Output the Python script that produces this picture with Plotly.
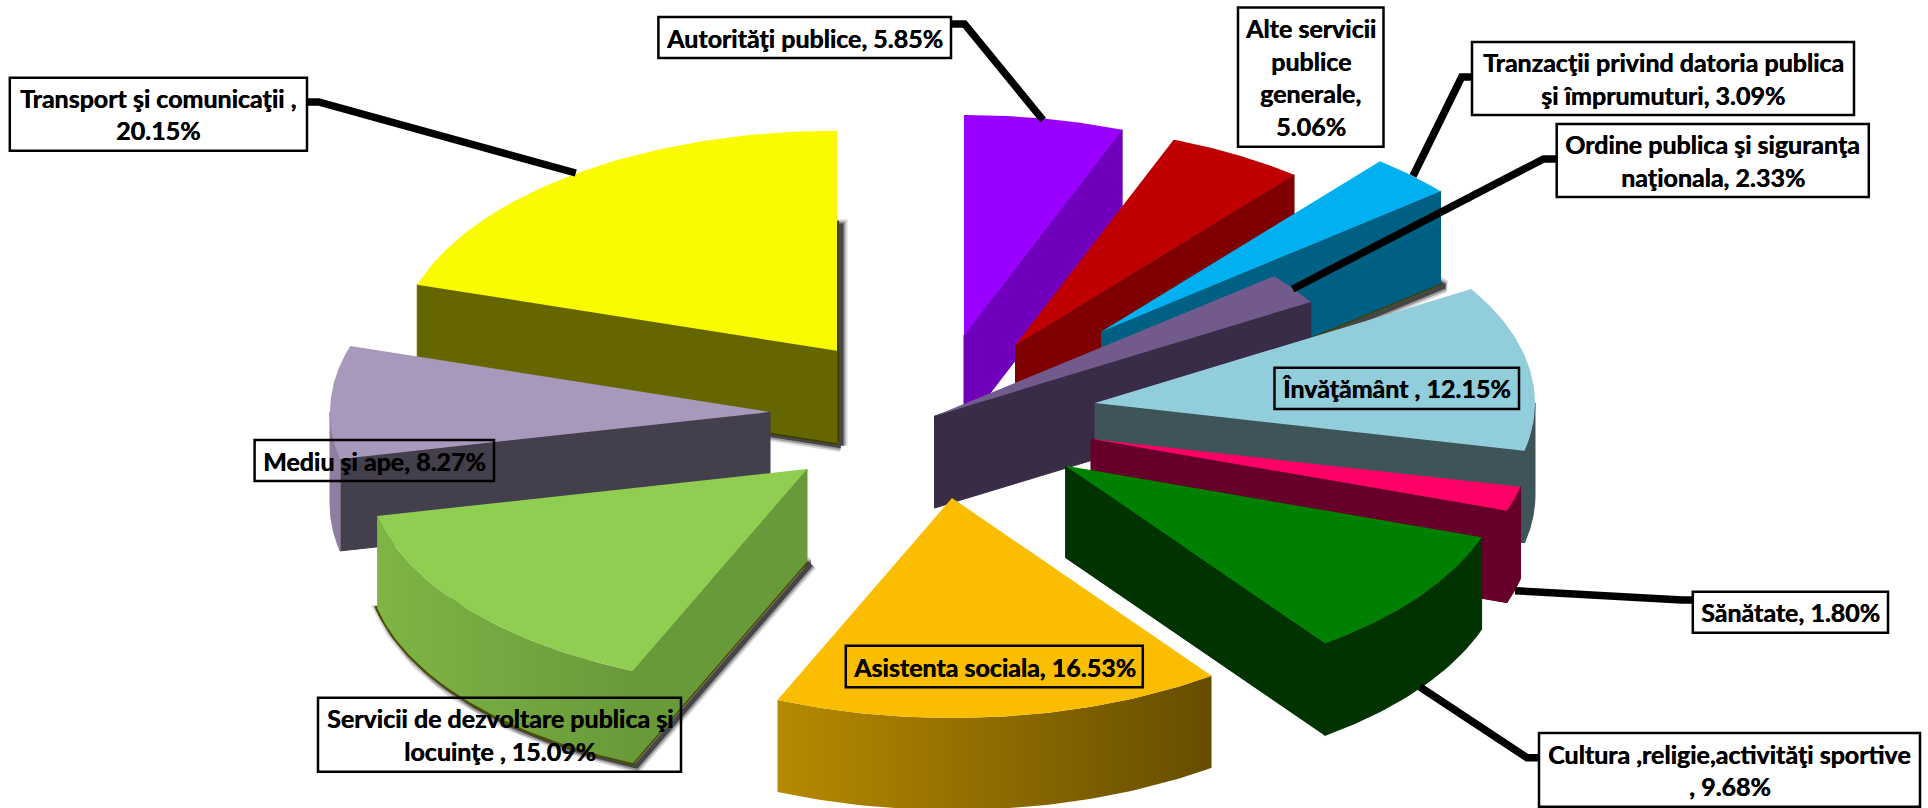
import numpy as np
import plotly.graph_objects as go

# ---------- data ----------
categories = ["Autorităţi publice", "Alte servicii publice generale", "Tranzacţii privind datoria publica şi împrumuturi",
              "Ordine publica şi siguranţa naţionala", "Învăţământ", "Sănătate", "Cultura ,religie,activităţi sportive",
              "Asistenta sociala", "Servicii de dezvoltare publica şi locuinţe", "Mediu şi ape", "Transport şi comunicaţii"]
values = [5.85, 5.06, 3.09, 2.33, 12.15, 1.80, 9.68, 16.53, 15.09, 8.27, 20.15]
label_lines = [
    ["Autorităţi publice, 5.85%"],
    ["Alte servicii", "publice", "generale,", "5.06%"],
    ["Tranzacţii privind datoria publica", "şi împrumuturi, 3.09%"],
    ["Ordine publica şi siguranţa", "naţionala, 2.33%"],
    ["Învăţământ , 12.15%"],
    ["Sănătate, 1.80%"],
    ["Cultura ,religie,activităţi sportive", ", 9.68%"],
    ["Asistenta sociala, 16.53%"],
    ["Servicii de dezvoltare publica şi", "locuinţe , 15.09%"],
    ["Mediu şi ape, 8.27%"],
    ["Transport şi comunicaţii ,", "20.15%"],
]

# ---------- geometry / style ----------
W, H = 1928, 808
RX, RY, DEPTH = 440, 220, 92
apex_x = [964, 1015.5, 1101.5, 934.5, 1095, 1091, 1065.6, 952, 807, 770, 837]
apex_y = [335, 345, 331.5, 416, 403, 439, 465.7, 498, 469, 412, 350.7]
top_colors = ["#9900FF", "#C00000", "#00B0F0", "#735A8D", "#92CDDC", "#FF0066", "#008000", "#FBBD00", "#8FCE50", "#A898BC", "#FAFA00"]
cut_colors = ["#7000BC", "#7E0000", "#006083", "#392C46", "#3F5459", "#66002A", "#003300", "#664D00", "#699A3A", "#433F4C", "#666600"]
arc_left = ["#7000BC", "#7E0000", "#006083", "#392C46", "#3F5459", "#66002A", "#003300", "#B68A00", "#7FB546", "#8E7FA0", "#666600"]
arc_right = ["#7000BC", "#7E0000", "#006083", "#392C46", "#3F5459", "#66002A", "#003300", "#664D00", "#699A3A", "#8E7FA0", "#666600"]
draw_order = [0, 1, 2, 3, 4, 5, 6, 10, 9, 8, 7]
shadowed = {2: "#3d3d00", 8: "#4d4d00", 10: "#3d3d00"}

box_x0 = [658.4, 1238, 1472, 1556.7, 1274.5, 1692.8, 1539, 845.8, 318, 254.6, 9.8]
box_x1 = [951, 1383.5, 1854, 1868.8, 1519, 1888, 1920, 1142.8, 681, 494, 307]
box_y0 = [17, 7.5, 42, 124, 367.7, 591.7, 733, 645.7, 697.7, 440, 77.7]
box_y1 = [58, 146.7, 115, 197, 409, 632.7, 806.7, 687.3, 771.7, 481, 150.7]
box_fill = ["white", "white", "white", "white", "rgba(0,0,0,0)", "white", "white", "rgba(0,0,0,0)", "rgba(0,0,0,0)", "rgba(0,0,0,0)", "white"]
LINE_STEP = 32.5
FONT = "Lato"
FONT_SIZE = 25

leaders = {
    0: ([951, 964.5, 1043], [24, 24, 120]),
    2: ([1472, 1461.7, 1413], [77, 77, 176]),
    3: ([1556.7, 1543.5, 1292.7], [159, 159, 289]),
    5: ([1692.8, 1682, 1515], [600, 600, 590.7]),
    6: ([1539, 1527, 1420], [757.7, 757.7, 687]),
    10: ([307, 318.6, 575.8], [102, 102, 173]),
}


def arc(ax, ay, t0, t1, n=60):
    t = np.linspace(t0, t1, n)
    return ax + RX * np.sin(t), ay - RY * np.cos(t)


def poly(xs, ys, color, name, gradient=None, edge=0):
    kw = {}
    if gradient:
        kw["fillgradient"] = dict(type="horizontal", colorscale=[[0, gradient[0]], [1, gradient[1]]])
        line = dict(width=0)
    else:
        kw["fillcolor"] = color
        line = dict(width=edge, color=color)
    return go.Scatter(x=list(xs), y=list(ys), mode="lines", fill="toself", line=line,
                      name=name, hoverinfo="skip", showlegend=False, **kw)


fig = go.Figure()
bounds = np.radians(np.concatenate([[0], np.cumsum(values) / np.sum(values) * 360]))

for i in draw_order:
    t0, t1 = bounds[i], bounds[i + 1]
    ax, ay = apex_x[i], apex_y[i]
    ax_, ay_ = arc(ax, ay, t0, t1)
    name = categories[i]

    # soft shadow of the underside
    if i in shadowed:
        sx = np.concatenate([[ax], ax_, [ax]])
        sy = np.concatenate([[ay], ay_, [ay]]) + DEPTH
        for width, alpha in [(13, 0.14), (9, 0.28), (5, 0.55)]:
            fig.add_trace(go.Scatter(x=sx + 4, y=sy + 3, mode="lines", line=dict(color="black", width=width),
                                     opacity=alpha, hoverinfo="skip", showlegend=False, name=name))
        fig.add_trace(go.Scatter(x=sx, y=sy, mode="lines", line=dict(color=shadowed[i], width=4),
                                 hoverinfo="skip", showlegend=False, name=name))

    # radial cut faces seen from the front
    if np.sin(t0) < -1e-6:
        ex, ey = arc(ax, ay, t0, t0, 1)
        fig.add_trace(poly([ax, ex[0], ex[0], ax, ax], [ay, ey[0], ey[0] + DEPTH, ay + DEPTH, ay], cut_colors[i], name, edge=1))
    if np.sin(t1) > 1e-6:
        ex, ey = arc(ax, ay, t1, t1, 1)
        fig.add_trace(poly([ax, ex[0], ex[0], ax, ax], [ay, ey[0], ey[0] + DEPTH, ay + DEPTH, ay], cut_colors[i], name, edge=1))

    # outer rim (front half only)
    a0, a1 = max(t0, np.pi / 2), min(t1, 1.5 * np.pi)
    if a1 > a0:
        rx_, ry_ = arc(ax, ay, a0, a1)
        xs = np.concatenate([rx_, rx_[::-1], rx_[:1]])
        ys = np.concatenate([ry_, ry_[::-1] + DEPTH, ry_[:1]])
        if arc_left[i] != arc_right[i]:
            fig.add_trace(poly(xs, ys, None, name, gradient=(arc_left[i], arc_right[i])))
        else:
            fig.add_trace(poly(xs, ys, arc_left[i], name, edge=1))

    # top face
    fig.add_trace(poly(np.concatenate([[ax], ax_, [ax]]), np.concatenate([[ay], ay_, [ay]]), top_colors[i], name))

for i, (lx, ly) in leaders.items():
    fig.add_trace(go.Scatter(x=lx, y=ly, mode="lines", line=dict(color="black", width=7.5, simplify=False),
                             hoverinfo="skip", showlegend=False, name="leader " + categories[i]))

shapes, annotations = [], []
for i, lines in enumerate(label_lines):
    shapes.append(dict(type="rect", xref="x", yref="y", x0=box_x0[i], x1=box_x1[i], y0=box_y0[i], y1=box_y1[i],
                       line=dict(color="black", width=2.5), fillcolor=box_fill[i], layer="above"))
    cx = (box_x0[i] + box_x1[i]) / 2
    cy = (box_y0[i] + box_y1[i]) / 2
    for k, text in enumerate(lines):
        annotations.append(dict(x=cx, y=cy + (k - (len(lines) - 1) / 2) * LINE_STEP, xref="x", yref="y", text=text,
                                showarrow=False, xanchor="center", yanchor="middle",
                                font=dict(family=FONT, size=FONT_SIZE, color="black", weight="bold",
                                          shadow="0.5px 0 0 black")))

fig.update_layout(
    width=W, height=H, margin=dict(l=0, r=0, t=0, b=0), paper_bgcolor="white", plot_bgcolor="white",
    xaxis=dict(range=[0, W], visible=False, fixedrange=True),
    yaxis=dict(range=[H, 0], visible=False, fixedrange=True),
    shapes=shapes, annotations=annotations, showlegend=False,
)
fig.write_html("out.html", config={"displayModeBar": False},
               post_script="document.body.style.margin='0';document.documentElement.style.overflow='hidden';")
